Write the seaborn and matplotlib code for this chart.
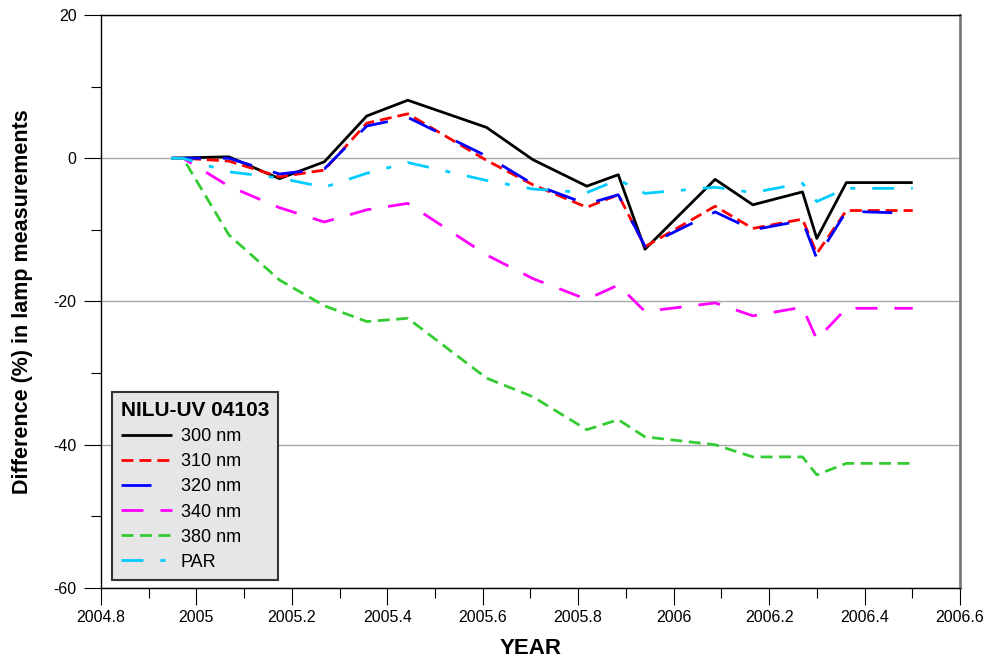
import matplotlib
matplotlib.use("Agg")
import matplotlib.pyplot as plt
from matplotlib.ticker import MultipleLocator, FixedLocator
import seaborn as sns
import pandas as pd

# ---------------- data ----------------
years = [2004.947, 2004.972, 2005.068, 2005.174, 2005.268, 2005.357, 2005.443,
         2005.608, 2005.705, 2005.818, 2005.884, 2005.940, 2006.087, 2006.166,
         2006.270, 2006.300, 2006.362, 2006.501]
nm300 = [0, 0.05, 0.2, -2.85, -0.5, 5.9, 8.1, 4.3, -0.2, -3.9, -2.3, -12.7,
         -2.95, -6.5, -4.7, -11.2, -3.4, -3.4]
nm310 = [0, 0, -0.4, -2.6, -1.65, 4.9, 6.2, -0.3, -3.7, -6.85, -5.1, -12.35,
         -6.7, -9.8, -8.5, -13.3, -7.3, -7.3]
nm320 = [0, 0, 0, -2.2, -1.5, 4.5, 5.7, 0.3, -3.6, -6.4, -5.1, -12.3,
         -7.5, -10.0, -8.7, -14.0, -7.4, -7.7]
nm340 = [0, 0, -3.9, -6.9, -8.9, -7.2, -6.3, -13.5, -16.8, -19.7, -17.7, -21.4,
         -20.2, -22.0, -20.8, -25.3, -20.95, -20.95]
nm380 = [0, 0, -10.7, -17.0, -20.6, -22.8, -22.35, -30.7, -33.3, -37.9, -36.5,
         -38.9, -40.0, -41.7, -41.7, -44.2, -42.6, -42.6]
par = [0, 0, -1.9, -2.75, -4.05, -2.1, -0.6, -3.1, -4.3, -4.8, -3.0, -4.9,
       -4.05, -4.8, -3.5, -6.05, -4.2, -4.2]

series_names = ["300 nm", "310 nm", "320 nm", "340 nm", "380 nm", "PAR"]
series_values = [nm300, nm310, nm320, nm340, nm380, par]

x_ticks = [2004.8, 2005.0, 2005.2, 2005.4, 2005.6, 2005.8, 2006.0, 2006.2, 2006.4, 2006.6]
x_tick_labels = ["2004.8", "2005", "2005.2", "2005.4", "2005.6", "2005.8",
                 "2006", "2006.2", "2006.4", "2006.6"]
y_ticks = [-60, -40, -20, 0, 20]
y_tick_labels = ["-60", "-40", "-20", "0", "20"]

legend_title = "NILU-UV 04103"
x_label = "YEAR"
y_label = "Difference (%) in lamp measurements"

# ---------------- styles ----------------
colors = ["#000000", "#ff0000", "#0000ff", "#ff00ff", "#33cc33", "#00ccff"]
styles = ["-", (0, (8.6, 4.3)), (0, (21.6, 15.8)), (0, (15.8, 12.2)),
          (0, (8.6, 4.7)), (0, (15.8, 12.2, 3.6, 12.2))]

sns.set_style("white")
plt.rcParams["lines.scale_dashes"] = False
plt.rcParams["font.family"] = ["Liberation Sans", "DejaVu Sans"]
plt.rcParams["text.color"] = "black"
plt.rcParams["axes.labelcolor"] = "black"
plt.rcParams["xtick.color"] = "black"
plt.rcParams["ytick.color"] = "black"

fig = plt.figure(figsize=(9.87, 6.6), dpi=100)
ax = fig.add_axes([0.1023, 0.1091, 0.8703, 0.8682])

df = pd.DataFrame({"year": years})
for name, vals, c, ls in zip(series_names, series_values, colors, styles):
    df[name] = vals
    sns.lineplot(data=df, x="year", y=name, ax=ax, color=c, linestyle=ls,
                 linewidth=2.0, label=name, estimator=None, sort=False,
                 dash_capstyle="butt", solid_capstyle="butt")

ax.set_xlim(2004.8, 2006.6)
ax.set_ylim(-60, 20)
ax.xaxis.set_major_locator(FixedLocator(x_ticks))
ax.set_xticklabels(x_tick_labels)
ax.yaxis.set_major_locator(FixedLocator(y_ticks))
ax.set_yticklabels(y_tick_labels)
ax.xaxis.set_minor_locator(MultipleLocator(0.1))
ax.yaxis.set_minor_locator(MultipleLocator(10))
ax.tick_params(axis="both", which="major", direction="out", length=12.5, width=0.8,
               color="black", labelcolor="black", labelsize=11.5, pad=3)
ax.tick_params(axis="both", which="minor", direction="out", length=7, width=0.8,
               color="black")
ax.tick_params(axis="y", which="major", pad=5)
ax.tick_params(bottom=True, left=True, which="both")

ax.yaxis.grid(True, which="major", color="#a8a8a8", linewidth=1.0)
ax.xaxis.grid(False)
ax.set_axisbelow(True)

for s in ["left", "bottom", "top"]:
    ax.spines[s].set_color("black")
    ax.spines[s].set_linewidth(1.0)
ax.spines["right"].set_color("#7a7a7a")
ax.spines["right"].set_linewidth(2.0)

ax.set_xlabel(x_label, fontsize=16, fontweight="bold", labelpad=10, color="black")
ax.set_ylabel(y_label, fontsize=15.5, fontweight="bold", labelpad=15, color="black")

leg = ax.legend(title=legend_title, loc="upper left",
                bbox_to_anchor=(0.0128, 0.342), borderaxespad=0,
                fontsize=13, title_fontproperties={"size": 15, "weight": "bold"},
                frameon=True, fancybox=False, facecolor="#e6e6e6",
                edgecolor="#333333", framealpha=1.0, handlelength=2.8,
                handletextpad=0.5, borderpad=0.5, labelspacing=0.45,
                alignment="left", labelcolor="black")
leg.get_title().set_color("black")
leg.get_frame().set_linewidth(1.5)

fig.savefig("out.png", dpi=100)
